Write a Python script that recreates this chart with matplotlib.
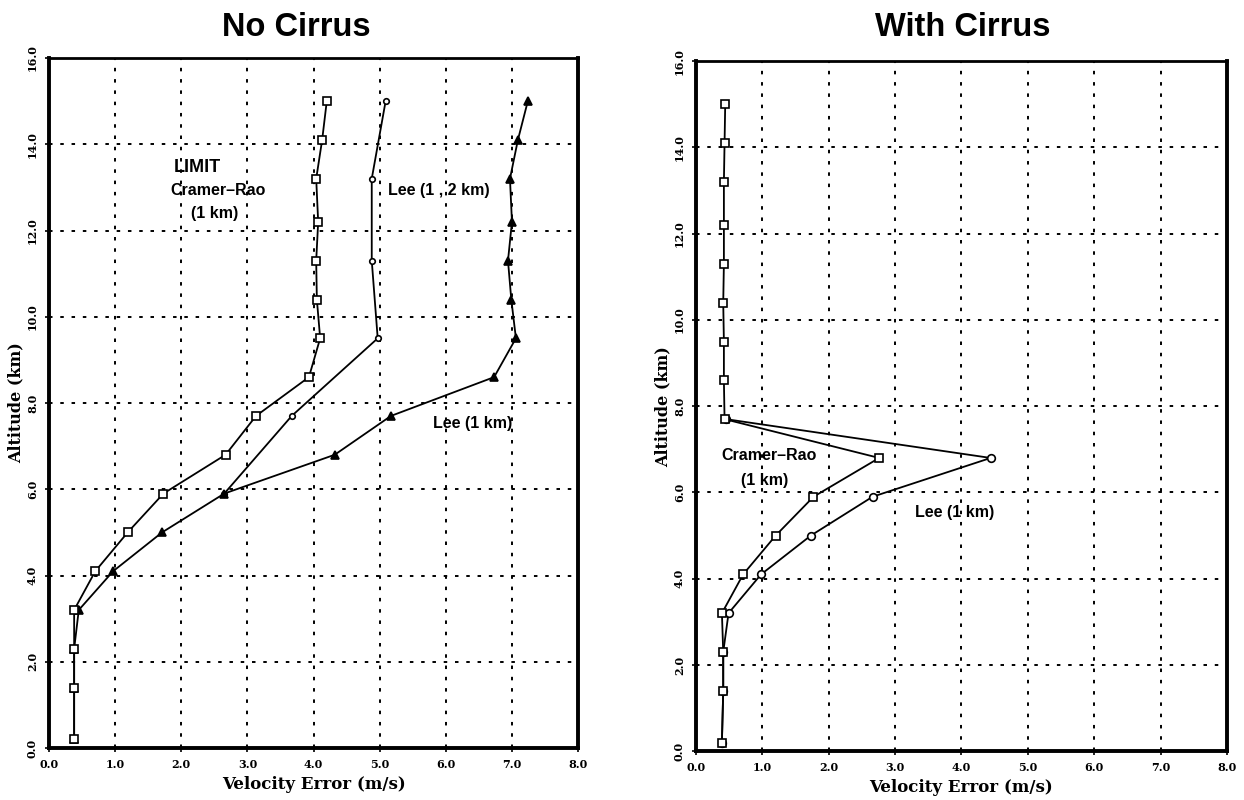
import matplotlib

matplotlib.use("Agg")
import matplotlib.pyplot as plt

# altitude levels (km) shared by the 1 km profiles
altitudes = [0.2, 1.4, 2.3, 3.2, 4.1, 5.0, 5.9, 6.8, 7.7, 8.6, 9.5, 10.4, 11.3, 12.2, 13.2, 14.1, 15.0]

# No Cirrus
nc_cramer_rao = [0.38, 0.38, 0.38, 0.38, 0.70, 1.19, 1.73, 2.67, 3.13, 3.93, 4.10, 4.05, 4.04, 4.07, 4.04, 4.13, 4.20]
nc_lee_1km = [0.38, 0.38, 0.38, 0.45, 0.97, 1.71, 2.65, 4.32, 5.17, 6.73, 7.06, 6.99, 6.94, 7.00, 6.97, 7.09, 7.24]
nc_lee_12km_alt = [5.9, 7.7, 9.5, 11.3, 13.2, 15.0]
nc_lee_12km = [2.65, 3.67, 4.97, 4.88, 4.88, 5.09]

# With Cirrus
wc_cramer_rao = [0.39, 0.41, 0.41, 0.39, 0.71, 1.20, 1.77, 2.76, 0.43, 0.42, 0.42, 0.41, 0.42, 0.42, 0.42, 0.43, 0.44]
wc_lee_alt = [0.2, 1.4, 2.3, 3.2, 4.1, 5.0, 5.9, 6.8, 7.7]
wc_lee_1km = [0.39, 0.41, 0.41, 0.49, 0.98, 1.73, 2.66, 4.44, 0.45]

x_ticks = [0, 1, 2, 3, 4, 5, 6, 7, 8]
y_ticks = [0, 2, 4, 6, 8, 10, 12, 14, 16]

SERIF = "DejaVu Serif"
SANS = "Liberation Sans"


def style_axes(ax):
    ax.set_xlim(0, 8)
    ax.set_ylim(0, 16)
    ax.set_xticks(x_ticks)
    ax.set_yticks(y_ticks)
    ax.set_xticklabels([f"{v:.1f}" for v in x_ticks], family=SERIF, weight="bold", fontsize=8)
    ax.set_yticklabels([f"{v:.1f}" for v in y_ticks], family=SERIF, weight="bold", fontsize=8,
                       rotation=90, va="center")
    ax.tick_params(direction="out", length=3, width=1.2, pad=5)
    ax.grid(True, color="black", linestyle=(0, (1.8, 4)), linewidth=1.4)
    for side in ["left", "bottom", "right"]:
        ax.spines[side].set_linewidth(2.8)
    ax.spines["top"].set_linewidth(2.0)
    ax.set_xlabel("Velocity Error (m/s)", family=SERIF, weight="bold", fontsize=12, labelpad=4)
    ax.set_ylabel("Altitude (km)", family=SERIF, weight="bold", fontsize=11.5, labelpad=2)


def note(ax, x, y, s, size=11.5):
    ax.text(x, y, s, family=SANS, weight="bold", fontsize=size, ha="center", va="center")


fig = plt.figure(figsize=(12.44, 8), dpi=100)

# left panel
ax1 = fig.add_axes([0.0394, 0.065, 0.4253, 0.8625])
ax1.plot(nc_lee_12km, nc_lee_12km_alt, color="black", linewidth=1.3, marker="o",
         markerfacecolor="white", markersize=4, markeredgewidth=1.2, zorder=3)
ax1.plot(nc_lee_1km, altitudes, color="black", linewidth=1.3, marker="^",
         markerfacecolor="black", markersize=5.5, markeredgewidth=1.2, zorder=3)
ax1.plot(nc_cramer_rao, altitudes, color="black", linewidth=1.3, marker="s",
         markerfacecolor="white", markersize=5.5, markeredgewidth=1.2, zorder=3)
style_axes(ax1)
note(ax1, 2.25, 13.45, "LIMIT", size=13)
note(ax1, 2.55, 12.93, "Cramer\u2013Rao")
note(ax1, 2.5, 12.4, "(1 km)")
note(ax1, 5.9, 12.93, "Lee (1 , 2 km)")
note(ax1, 6.4, 7.52, "Lee (1 km)")
fig.text(296 / 1244, 1 - 27 / 800, "No Cirrus", family=SANS, weight="bold", fontsize=23.5,
         ha="center", va="center")

# right panel
ax2 = fig.add_axes([0.5595, 0.061, 0.4268, 0.8625])
ax2.plot(wc_lee_1km, wc_lee_alt, color="black", linewidth=1.3, marker="o",
         markerfacecolor="white", markersize=5.5, markeredgewidth=1.2, zorder=3)
ax2.plot(wc_cramer_rao, altitudes, color="black", linewidth=1.3, marker="s",
         markerfacecolor="white", markersize=5.5, markeredgewidth=1.2, zorder=3)
style_axes(ax2)
note(ax2, 1.1, 6.85, "Cramer\u2013Rao")
note(ax2, 1.03, 6.28, "(1 km)")
note(ax2, 3.9, 5.53, "Lee (1 km)")
fig.text(963 / 1244, 1 - 27 / 800, "With Cirrus", family=SANS, weight="bold", fontsize=23.5,
         ha="center", va="center")

fig.savefig("out.png", dpi=100)
plt.close(fig)
